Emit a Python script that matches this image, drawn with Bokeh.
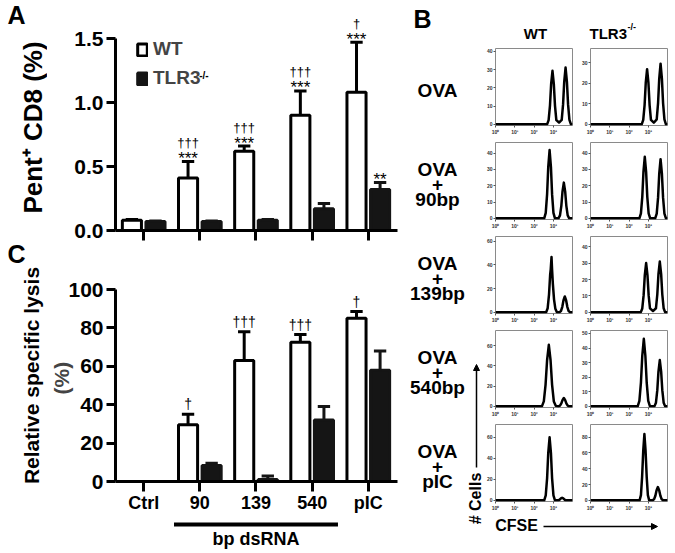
import math
from bokeh.plotting import figure
from bokeh.models import (Range1d, FixedTicker, Label, Legend, LegendItem,
                          Arrow, NormalHead, NumeralTickFormatter)
from bokeh.layouts import row, column
from bokeh.embed import file_html
from bokeh.resources import INLINE
from bokeh.core.properties import value

FONT = "Liberation Sans"

# ---------------- data: panels A and C ----------------
categories = ["Ctrl", "90", "139", "540", "pIC"]
bracket_first, bracket_last = 1, 3          # categories grouped under "bp dsRNA"
bracket_label = "bp dsRNA"

a_wt = [0.08, 0.41, 0.62, 0.90, 1.08]
a_wt_sem = [0.005, 0.13, 0.04, 0.19, 0.39]
a_ko = [0.07, 0.07, 0.08, 0.17, 0.32]
a_ko_sem = [0.005, 0.005, 0.005, 0.04, 0.055]
a_sig_wt_star = ["", "***", "***", "***", "***"]
a_sig_wt_dag = ["", "†††", "†††", "†††", "†"]
a_sig_ko_star = ["", "", "", "", "**"]

c_wt = [0, 29.5, 63, 72.5, 85]
c_wt_sem = [0, 5.5, 15, 4, 3.5]
c_ko = [0, 8.3, 1, 32, 58]
c_ko_sem = [0, 1.2, 1.8, 7, 10]
c_sig_wt_dag = ["", "†", "†††", "†††", "†"]

# ---------------- data: panel B histograms (x = log10 CFSE, y = # cells) ----------------
row_labels = [["OVA"], ["OVA", "+", "90bp"], ["OVA", "+", "139bp"], ["OVA", "+", "540bp"], ["OVA", "+", "pIC"]]
col_labels = ["WT", "TLR3"]
cfse_ticks = [0, 1, 2, 3]
cfse_tick_labels = ["10⁰", "10¹", "10²", "10³"]

wt_ova_x = [0, 2.68, 2.76, 2.83, 2.89, 2.96, 3.03, 3.09, 3.16, 3.30, 3.44, 3.51, 3.57, 3.64, 3.71, 3.77, 3.84, 3.92, 4.0]
wt_ova_y = [0, 0, 2.3, 10.3, 22.0, 29.3, 22.0, 10.3, 2.3, 1.0, 2.5, 10.9, 23.3, 31.1, 23.3, 10.9, 2.5, 0, 0]
ko_ova_x = [0, 2.66, 2.74, 2.81, 2.87, 2.94, 3.01, 3.07, 3.14, 3.29, 3.44, 3.51, 3.57, 3.64, 3.71, 3.77, 3.84, 3.92, 4.0]
ko_ova_y = [0, 0, 2.2, 9.4, 20.2, 26.9, 20.2, 9.4, 2.2, 0.8, 2.4, 10.4, 22.2, 29.6, 22.2, 10.4, 2.4, 0, 0]

wt_90_x = [0, 2.53, 2.61, 2.68, 2.74, 2.81, 2.88, 2.94, 3.01, 3.09, 3.27, 3.35, 3.42, 3.48, 3.55, 3.62, 3.68, 3.75, 3.83, 4.0]
wt_90_y = [0, 0, 3.4, 14.7, 31.4, 41.9, 31.4, 14.7, 3.4, 0, 0, 1.8, 7.7, 16.4, 21.9, 16.4, 7.7, 1.8, 0, 0]
ko_90_x = [0, 2.54, 2.62, 2.69, 2.75, 2.82, 2.89, 2.95, 3.02, 3.10, 3.36, 3.44, 3.51, 3.57, 3.64, 3.71, 3.77, 3.84, 3.92, 4.0]
ko_90_y = [0, 0, 3.0, 13.2, 28.3, 37.7, 28.3, 13.2, 3.0, 0, 0, 2.9, 12.7, 27.2, 36.3, 27.2, 12.7, 2.9, 0, 0]

wt_139_x = [0, 2.63, 2.71, 2.78, 2.84, 2.87, 2.91, 2.94, 2.98, 3.04, 3.11, 3.19, 3.32, 3.40, 3.47, 3.53, 3.60, 3.67, 3.73, 3.80, 3.88, 4.0]
wt_139_y = [0, 0, 3.5, 15, 32, 36.5, 46.7, 36, 24, 11, 3, 0, 0, 1.1, 4.7, 10, 13.4, 10, 4.7, 1.1, 0, 0]
ko_139_x = [0, 2.61, 2.69, 2.76, 2.82, 2.89, 2.96, 3.02, 3.09, 3.245, 3.40, 3.47, 3.53, 3.60, 3.67, 3.73, 3.80, 3.88, 4.0]
ko_139_y = [0, 0, 2.4, 10.5, 22.6, 30.1, 22.6, 10.5, 2.4, 0.8, 2.5, 10.9, 23.3, 31, 23.3, 10.9, 2.5, 0, 0]

wt_540_x = [0, 2.41, 2.51, 2.60, 2.68, 2.77, 2.86, 2.94, 3.03, 3.13, 3.27, 3.35, 3.42, 3.48, 3.55, 3.62, 3.68, 3.75, 3.83, 4.0]
wt_540_y = [0, 0, 4.9, 21.3, 45.6, 60.8, 45.6, 21.3, 4.9, 0.5, 0, 0.7, 2.9, 6.2, 8.3, 6.2, 2.9, 0.7, 0, 0]
ko_540_x = [0, 2.45, 2.54, 2.62, 2.69, 2.77, 2.85, 2.92, 3.00, 3.09, 3.32, 3.40, 3.47, 3.53, 3.60, 3.67, 3.73, 3.80, 3.88, 4.0]
ko_540_y = [0, 0, 3.7, 16.2, 34.7, 46.3, 34.7, 16.2, 3.7, 0, 0, 2.5, 11.1, 23.8, 31.7, 23.8, 11.1, 2.5, 0, 0]

wt_pic_x = [0, 2.53, 2.61, 2.68, 2.74, 2.81, 2.88, 2.94, 3.01, 3.09, 3.25, 3.33, 3.40, 3.46, 3.52, 3.59, 3.67, 4.0]
wt_pic_y = [0, 0, 4.8, 20.9, 44.9, 59.8, 44.9, 20.9, 4.8, 0, 0, 0.6, 1.9, 2.5, 1.9, 0.6, 0, 0]
ko_pic_x = [0, 2.55, 2.62, 2.68, 2.74, 2.80, 2.86, 2.92, 2.98, 3.05, 3.22, 3.30, 3.37, 3.43, 3.50, 3.57, 3.63, 3.70, 3.78, 4.0]
ko_pic_y = [0, 0, 6.7, 29.4, 63, 84, 63, 29.4, 6.7, 0, 0, 1.3, 5.9, 12.6, 16.8, 12.6, 5.9, 1.3, 0, 0]

wt_ymax = [41.5, 46.5, 64, 75, 72]
ko_ymax = [37, 46.5, 46.3, 52, 96]
wt_yticks = [[0, 10, 20, 30, 40], [0, 10, 20, 30, 40], [0, 20, 40, 60], [0, 20, 40, 60], [0, 20, 40, 60]]
ko_yticks = [[0, 10, 20, 30], [0, 10, 20, 30, 40], [0, 10, 20, 30, 40], [0, 10, 20, 30, 40, 50], [0, 20, 40, 60, 80]]

wt_curves = [(wt_ova_x, wt_ova_y), (wt_90_x, wt_90_y), (wt_139_x, wt_139_y), (wt_540_x, wt_540_y), (wt_pic_x, wt_pic_y)]
ko_curves = [(ko_ova_x, ko_ova_y), (ko_90_x, ko_90_y), (ko_139_x, ko_139_y), (ko_540_x, ko_540_y), (ko_pic_x, ko_pic_y)]

X_RANGE = (-0.502, 4.52)
STRIP_W = 47
BAR_W = 353
BAR_LEFT = 60


# ---------------- helpers ----------------
def lab(p, x, y, text, size, angle=0.0, align="center", baseline="middle", style="bold", xr=None, yr=None):
    kw = {}
    if xr:
        kw["x_range_name"] = xr
    if yr:
        kw["y_range_name"] = yr
    p.add_layout(Label(x=x, y=y, text=text, angle=angle, text_align=align, text_baseline=baseline,
                       text_font=FONT, text_font_size=size, text_font_style=style, text_color="black", **kw))


def blank_fig(w, h, xr, yr, left=0, right=0):
    f = figure(width=w, height=h, x_range=Range1d(*xr), y_range=Range1d(*yr),
               output_backend="svg", toolbar_location=None,
               x_axis_location=None, y_axis_location=None,
               min_border_left=left, min_border_right=right, min_border_top=0, min_border_bottom=0)
    f.grid.visible = False
    f.outline_line_color = None
    return f


def bar_fig(h, ymax, bottom):
    p = figure(width=BAR_W, height=h, x_range=Range1d(*X_RANGE), y_range=Range1d(0, ymax),
               output_backend="svg", toolbar_location=None,
               min_border_left=BAR_LEFT, min_border_right=3, min_border_top=0, min_border_bottom=bottom)
    p.grid.visible = False
    p.outline_line_color = None
    for ax in (p.xaxis[0], p.yaxis[0]):
        ax.axis_line_width = 3
        ax.axis_line_color = "black"
        ax.major_tick_line_width = 3
        ax.major_tick_line_color = "black"
        ax.minor_tick_line_color = None
        ax.major_tick_in = 0
        ax.major_label_text_font = FONT
        ax.major_label_text_font_style = "bold"
        ax.major_label_text_color = "black"
    p.yaxis.major_tick_out = 9
    p.yaxis.major_label_text_font_size = "21px"
    p.yaxis.major_label_standoff = 3
    p.xaxis.major_tick_out = 10
    p.xaxis.ticker = FixedTicker(ticks=list(range(len(categories))))
    return p


def draw_bars(p, wt, wt_sem, ko, ko_sem):
    pos = list(range(len(categories)))
    xw = [i - 0.21 for i in pos]
    xk = [i + 0.21 for i in pos]
    rw = p.vbar(x=xw, top=wt, width=0.34, fill_color="white", line_color="black", line_width=3)
    rk = p.vbar(x=xk, top=ko, width=0.34, fill_color="#151515", line_color="#151515", line_width=3)
    tops = []
    for xs, m, s, col in ((xw, wt, wt_sem, "black"), (xk, ko, ko_sem, "#151515")):
        up = [a + b for a, b in zip(m, s)]
        tops.append(up)
        p.segment(x0=xs, y0=m, x1=xs, y1=up, line_width=3, line_color=col)
        p.segment(x0=[x - 0.11 for x in xs], y0=up, x1=[x + 0.11 for x in xs], y1=up,
                  line_width=3, line_color=col)
    return rw, rk, xw, xk, tops[0], tops[1]


# ---------------- left strip: panel letters and rotated y titles ----------------
strip = blank_fig(STRIP_W, 553, (0, STRIP_W), (553, 0))
lab(strip, 16, 14, "A", "25px")
lab(strip, 32, 127, "Pent⁺ CD8 (%)", "26px", angle=math.pi / 2)
lab(strip, 16, 253, "C", "25px")
lab(strip, 31, 375, "Relative specific lysis", "21px", angle=math.pi / 2)

# ---------------- panel A ----------------
pA = bar_fig(245, 230 / 128.0, 15)
pA.extra_x_ranges = {"px": Range1d(107, 397)}
pA.extra_y_ranges = {"py": Range1d(230, 0)}
pA.yaxis.ticker = FixedTicker(ticks=[0, 0.5, 1.0, 1.5])
pA.yaxis.formatter = NumeralTickFormatter(format="0.0")
pA.yaxis.bounds = (0, 1.5)
pA.xaxis.major_label_text_font_size = "1px"
pA.xaxis.major_label_text_color = None
pA.xaxis.major_label_standoff = 0

rwA, rkA, xwA, xkA, upwA, upkA = draw_bars(pA, a_wt, a_wt_sem, a_ko, a_ko_sem)
pA.text(x=xwA, y=upwA, text=a_sig_wt_star, text_font=value(FONT), text_font_size="17px",
        text_align="center", text_baseline="alphabetic", y_offset=-3, text_color="black")
pA.text(x=xwA, y=upwA, text=a_sig_wt_dag, text_font=value(FONT), text_font_size="13px",
        text_align="center", text_baseline="alphabetic", y_offset=-19, text_color="black")
pA.text(x=xkA, y=upkA, text=a_sig_ko_star, text_font=value(FONT), text_font_size="17px",
        text_align="center", text_baseline="alphabetic", y_offset=-3, text_color="black")

legA = Legend(items=[LegendItem(label=col_labels[0], renderers=[rwA]),
                     LegendItem(label=col_labels[1], renderers=[rkA])],
              location=(21, 141), glyph_width=12, glyph_height=15, label_standoff=5, spacing=7,
              padding=0, margin=0, border_line_color=None, background_fill_alpha=0,
              label_text_font=FONT, label_text_font_size="19px", label_text_font_style="bold",
              label_height=15)
pA.add_layout(legA)
lab(pA, 193, 69, "-/-", "10px", align="left", baseline="top", xr="px", yr="py")

# ---------------- panel C ----------------
pC = bar_fig(273, 236 / 1.92, 37)
pC.yaxis.ticker = FixedTicker(ticks=[0, 20, 40, 60, 80, 100])
pC.yaxis.bounds = (0, 100)
pC.yaxis.axis_label = "(%)     "
pC.yaxis.axis_label_text_font = FONT
pC.yaxis.axis_label_text_font_size = "21px"
pC.yaxis.axis_label_text_font_style = "bold"
pC.yaxis.axis_label_standoff = -8
pC.xaxis.major_label_overrides = {i: c for i, c in enumerate(categories)}
pC.xaxis.major_label_text_font_size = "18px"
pC.xaxis.major_label_standoff = 1

rwC, rkC, xwC, xkC, upwC, upkC = draw_bars(pC, c_wt, c_wt_sem, c_ko, c_ko_sem)
pC.text(x=xwC, y=upwC, text=c_sig_wt_dag, text_font=value(FONT), text_font_size="14px",
        text_align="center", text_baseline="alphabetic", y_offset=-10, text_color="black")

# bracket under the dsRNA categories (same x scale as panel C)
pBr = figure(width=BAR_W, height=35, x_range=Range1d(*X_RANGE), y_range=Range1d(553, 518),
             output_backend="svg", toolbar_location=None, x_axis_location=None, y_axis_location=None,
             min_border_left=BAR_LEFT, min_border_right=3, min_border_top=0, min_border_bottom=0)
pBr.grid.visible = False
pBr.outline_line_color = None
pBr.segment(x0=[bracket_first - 0.46], y0=[524], x1=[bracket_last + 0.46], y1=[524],
            line_width=4, line_color="black")
lab(pBr, (bracket_first + bracket_last) / 2, 538, bracket_label, "18px")

# ---------------- panel B ----------------
label_fig = blank_fig(83, 553, (400, 483), (553, 0))
lab(label_fig, 422, 18, "B", "25px")
for i, lines in enumerate(row_labels):
    center = 86.5 + 94 * i + 3
    n = len(lines)
    for k, t in enumerate(lines):
        lab(label_fig, 437, center + (k - (n - 1) / 2) * 15, t, "19px")
lab(label_fig, 475, 498, "# Cells", "16px", angle=math.pi / 2)
label_fig.add_layout(Arrow(x_start=476, y_start=467, x_end=476, y_end=364, line_width=1.5,
                           line_color="black",
                           end=NormalHead(size=6, fill_color="black", line_color="black")))

header = blank_fig(192, 43, (483, 675), (43, 0))
lab(header, 535, 33, col_labels[0], "15px")
lab(header, 589, 33, col_labels[1], "15px", align="left")
lab(header, 627, 26, "-/-", "9px", align="left")

footer = blank_fig(192, 40, (483, 675), (553, 513))
lab(footer, 516, 525, "CFSE", "16px")
footer.add_layout(Arrow(x_start=543, y_start=526, x_end=657, y_end=526, line_width=1.5,
                        line_color="black",
                        end=NormalHead(size=6, fill_color="black", line_color="black")))


def hist_fig(xs, ys, ymax, yticks, width, left, right):
    f = figure(width=width, height=94, x_range=Range1d(0, 4.0), y_range=Range1d(-0.015 * ymax, ymax),
               output_backend="svg", toolbar_location=None,
               min_border_left=left, min_border_right=right, min_border_top=5, min_border_bottom=12)
    f.line(xs, ys, line_width=2.5, line_color="black", line_join="round")
    f.grid.visible = False
    f.outline_line_color = "#8a8a8a"
    f.outline_line_width = 1
    f.xaxis.ticker = FixedTicker(ticks=cfse_ticks)
    f.xaxis.major_label_overrides = dict(zip(cfse_ticks, cfse_tick_labels))
    f.yaxis.ticker = FixedTicker(ticks=yticks)
    for ax in (f.xaxis[0], f.yaxis[0]):
        ax.axis_line_color = None
        ax.major_tick_line_color = "#555555"
        ax.major_tick_out = 2
        ax.major_tick_in = 0
        ax.minor_tick_line_color = None
        ax.major_label_text_font_size = "5px"
        ax.major_label_text_font = FONT
        ax.major_label_text_font_style = "bold"
        ax.major_label_text_color = "#333333"
        ax.major_label_standoff = 1
    return f


wt_figs = [hist_fig(c[0], c[1], m, t, 90, 12, 1) for c, m, t in zip(wt_curves, wt_ymax, wt_yticks)]
ko_figs = [hist_fig(c[0], c[1], m, t, 102, 17, 8) for c, m, t in zip(ko_curves, ko_ymax, ko_yticks)]

right_stack = column(header, row(column(*wt_figs), column(*ko_figs)), footer)
layout = row(strip, column(pA, pC, pBr), label_fig, right_stack)

html = file_html(layout, INLINE, title="Pent+ CD8 / specific lysis / CFSE")
with open("out.html", "w", encoding="utf-8") as fh:
    fh.write(html)
